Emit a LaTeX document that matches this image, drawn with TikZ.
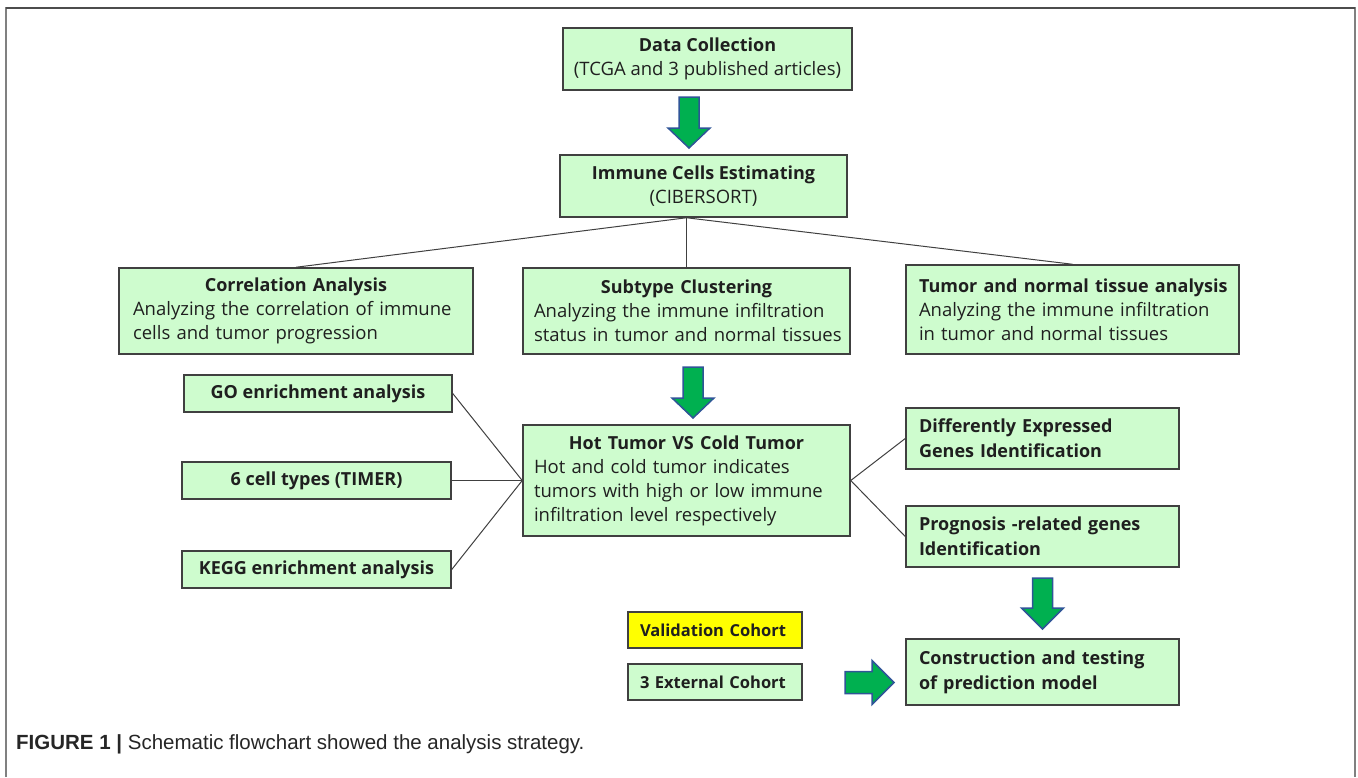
\documentclass[tikz,border=0pt]{standalone}
\usepackage{fontspec}
\setmainfont{Open Sans}
\newfontfamily\capfont{Liberation Sans}
\definecolor{boxfill}{RGB}{206,252,206}
\definecolor{boxline}{RGB}{64,64,64}
\definecolor{arrfill}{RGB}{0,176,80}
\definecolor{arrline}{RGB}{47,85,151}
\definecolor{yel}{RGB}{255,255,0}
\definecolor{frame}{RGB}{128,128,128}
\newcommand{\bt}[1]{{\fontsize{18}{24}\selectfont\bfseries #1}}
\newcommand{\ctitle}[1]{\makebox[\linewidth][c]{\bt{#1}}}
\newcommand{\lline}[1]{\mbox{#1}}
\begin{document}
\begin{tikzpicture}[x=1pt,y=-1pt,
  gbox/.style={draw=boxline,line width=1.5pt,fill=boxfill,inner sep=0pt,
     font=\fontsize{18.5}{24}\selectfont,text=black!88},
  bbox/.style={gbox,align=left,font=\fontsize{18}{25}\selectfont\bfseries},
  gline/.style={draw=black!75,line width=1pt},
  garrow/.style={fill=arrfill,draw=arrline,line width=1.5pt,line join=miter}]
\useasboundingbox (0,0) rectangle (1358,777);
% frame
\draw[frame,line width=2pt] (6,777) -- (6,8) -- (1355,8) -- (1355,777);
\draw[black!70,line width=1.2pt] (6,8) -- (1355,8);

% boxes
\node[gbox,minimum width=289pt,minimum height=62pt,align=center] (data) at (707.5,59)
  {\bt{Data Collection}\\(TCGA and 3 published articles)};
\node[gbox,minimum width=287pt,minimum height=62pt,align=center] (immune) at (703.5,186)
  {\bt{Immune Cells Estimating}\\(CIBERSORT)};
\node[gbox,minimum width=354pt,minimum height=86pt,text width=326pt,align=left] (corr) at (296,311)
  {\ctitle{Correlation Analysis}\\\lline{Analyzing the correlation of immune}\\\lline{cells and tumor progression}};
\node[gbox,minimum width=327pt,minimum height=86pt,text width=305pt,align=left] (subtype) at (686.5,311)
  {\ctitle{Subtype Clustering}\\\lline{Analyzing the immune infiltration}\\\lline{status in tumor and normal tissues}};
\node[gbox,minimum width=333pt,minimum height=89pt,text width=307pt,align=left] (tumor) at (1072.5,309.5)
  {\lline{\bt{Tumor and normal tissue analysis}}\\\lline{Analyzing the immune infiltration}\\\lline{in tumor and normal tissues}};
\node[gbox,minimum width=268pt,minimum height=37pt,align=center] (go) at (318,393.5)
  {\bt{GO enrichment analysis}};
\node[gbox,minimum width=269pt,minimum height=37pt,align=center] (six) at (316.5,480.5)
  {\bt{6 cell types (TIMER)}};
\node[gbox,minimum width=269pt,minimum height=37pt,align=center] (kegg) at (316.5,569.5)
  {\bt{KEGG enrichment analysis}};
\node[gbox,minimum width=327pt,minimum height=111pt,text width=305pt,align=left] (hot) at (686.5,480.5)
  {\ctitle{Hot Tumor VS Cold Tumor}\\\lline{Hot and cold tumor indicates}\\\lline{tumors with high or low immune}\\\lline{infiltration level respectively}};
\node[bbox,minimum width=273pt,minimum height=61pt,text width=247pt] (deg) at (1042.5,438.5)
  {\lline{Differently Expressed}\\\lline{Genes Identification}};
\node[bbox,minimum width=273pt,minimum height=61pt,text width=247pt] (prog) at (1042.5,536.5)
  {\lline{Prognosis -related genes}\\\lline{Identification}};
\node[bbox,minimum width=273pt,minimum height=66pt,text width=247pt] (constr) at (1042.5,672)
  {\lline{Construction and testing}\\\lline{of prediction model}};
\node[bbox,fill=yel,minimum width=174pt,minimum height=36pt,text width=150pt,font=\fontsize{16.5}{22}\selectfont\bfseries] (valid) at (715,630)
  {\lline{Validation Cohort}};
\node[bbox,minimum width=174pt,minimum height=36pt,text width=150pt,font=\fontsize{16.5}{22}\selectfont\bfseries] (ext) at (715,682)
  {\lline{3 External Cohort}};

% connectors
\draw[gline] (subtype.north |- immune.south) -- (corr.north);
\draw[gline] (subtype.north |- immune.south) -- (subtype.north);
\draw[gline] (subtype.north |- immune.south) -- (tumor.north);
\draw[gline] (go.east) -- (hot.west);
\draw[gline] (six.east) -- (hot.west);
\draw[gline] (kegg.east) -- (hot.west);
\draw[gline] (hot.east) -- (deg.west);
\draw[gline] (hot.east) -- (prog.west);

% block arrows
\begin{scope}[shift={(689,97)}]
  \draw[garrow] (-10,0) -- (10,0) -- (10,31) -- (21,31) -- (0,51) -- (-21,31) -- (-10,31) -- cycle;
\end{scope}
\begin{scope}[shift={(693,367)}]
  \draw[garrow] (-10,0) -- (10,0) -- (10,31) -- (21,31) -- (0,51) -- (-21,31) -- (-10,31) -- cycle;
\end{scope}
\begin{scope}[shift={(1042.5,578)}]
  \draw[garrow] (-10,0) -- (10,0) -- (10,30) -- (21,30) -- (0,51) -- (-21,30) -- (-10,30) -- cycle;
\end{scope}
\begin{scope}[shift={(845,682.5)}]
  \draw[garrow] (0,-11) -- (27,-11) -- (27,-22) -- (49,0) -- (27,22) -- (27,11) -- (0,11) -- cycle;
\end{scope}

% caption
\node[anchor=base west,inner sep=0pt,text=black!85,font=\capfont\fontsize{20.5}{24}\selectfont] (cap) at (16,749)
  {\textbf{FIGURE 1 |} Schematic flowchart showed the analysis strategy.};
\end{tikzpicture}
\end{document}
